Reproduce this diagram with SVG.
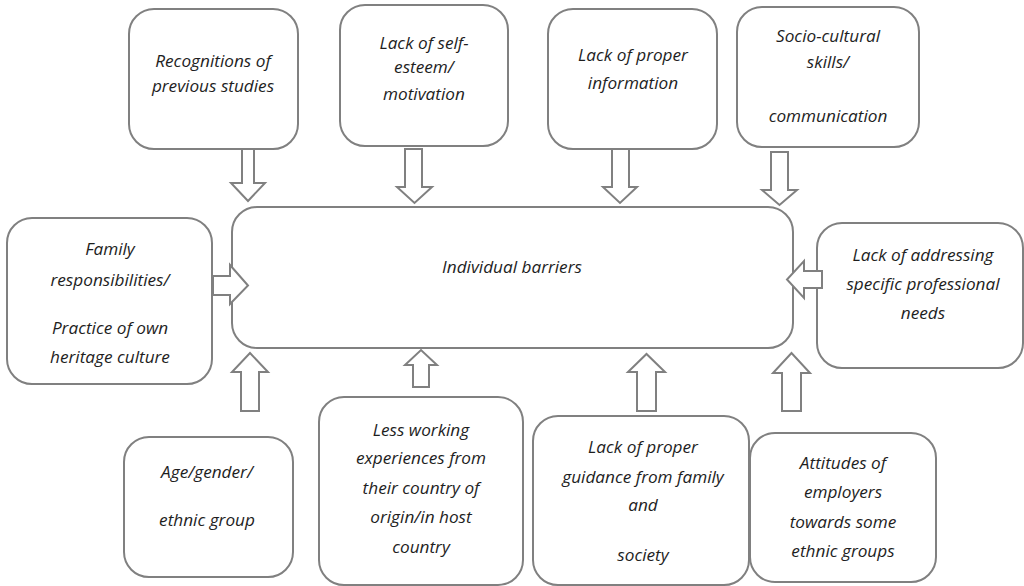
<svg xmlns="http://www.w3.org/2000/svg" width="1024" height="586" viewBox="0 0 1024 586">
<style>
.box{fill:#fff;stroke:#808080;stroke-width:2}
.arr{fill:#fff;stroke:#808080;stroke-width:2;stroke-linejoin:miter}
text{font-family:"Open Sans",Lato,"Liberation Sans",sans-serif;font-style:italic;font-size:17.2px;fill:#1e1e1e;text-anchor:middle}
</style>
<rect width="1024" height="586" fill="#fff"/>
<g id="n-recognitions"><rect class="box" x="129" y="9" width="169" height="140" rx="25"/>
<text x="213" y="67">Recognitions of</text><text x="213" y="92">previous studies</text></g>
<g id="n-selfesteem"><rect class="box" x="340" y="5" width="168" height="141" rx="25"/>
<text x="424" y="49">Lack of self-</text><text x="424" y="73">esteem/</text><text x="424" y="100">motivation</text></g>
<g id="n-information"><rect class="box" x="548" y="9" width="169" height="140" rx="25"/>
<text x="633" y="61">Lack of proper</text><text x="633" y="89">information</text></g>
<g id="n-sociocultural"><rect class="box" x="737" y="7" width="182" height="140" rx="25"/>
<text x="828" y="42">Socio-cultural</text><text x="828" y="68">skills/</text><text x="828" y="122">communication</text></g>
<g id="n-family"><rect class="box" x="7" y="218" width="205" height="166" rx="25"/>
<text x="110" y="255">Family</text><text x="110" y="286">responsibilities/</text><text x="110" y="334">Practice of own</text><text x="110" y="363">heritage culture</text></g>
<g id="n-individual"><rect class="box" x="232" y="207" width="561" height="141" rx="25"/>
<text x="512" y="273">Individual barriers</text></g>
<g id="n-professional"><rect class="box" x="817" y="223" width="206" height="145" rx="25"/>
<text x="923" y="261">Lack of addressing</text><text x="923" y="290">specific professional</text><text x="923" y="319">needs</text></g>
<g id="n-age"><rect class="box" x="124" y="437" width="169" height="140" rx="25"/>
<text x="207" y="478">Age/gender/</text><text x="207" y="526">ethnic group</text></g>
<g id="n-working"><rect class="box" x="319" y="397" width="204" height="188" rx="25"/>
<text x="421" y="436">Less working</text><text x="421" y="464">experiences from</text><text x="421" y="494">their country of</text><text x="421" y="523">origin/in host</text><text x="421" y="553">country</text></g>
<g id="n-guidance"><rect class="box" x="533" y="416" width="216" height="169" rx="25"/>
<text x="643" y="453">Lack of proper</text><text x="643" y="483">guidance from family</text><text x="643" y="511">and</text><text x="643" y="561">society</text></g>
<g id="n-attitudes"><rect class="box" x="750" y="433" width="186" height="149" rx="25"/>
<text x="843" y="469">Attitudes of</text><text x="843" y="498">employers</text><text x="843" y="528">towards some</text><text x="843" y="557">ethnic groups</text></g>
<g id="connectors">
<polygon class="arr" points="242,149 254,149 254,183 265,183 248,201 231,183 242,183"/>
<polygon class="arr" points="405,149 422,149 422,187 432,187 414.5,203 397,187 405,187"/>
<polygon class="arr" points="612,149 629,149 629,187 637,187 620,203 603,187 612,187"/>
<polygon class="arr" points="771,152 788,152 788,190 797,190 779.5,205 762,190 771,190"/>
<polygon class="arr" points="213,276 230,276 230,265 248,285.5 230,304 230,295 213,295"/>
<polygon class="arr" points="822,271 804,271 804,261 787,279.5 804,298 804,288 822,288"/>
<polygon class="arr" points="241,411 241,372 232,372 250,353 268,372 259,372 259,411"/>
<polygon class="arr" points="413,387 413,365 405,365 421,350 437,365 429,365 429,387"/>
<polygon class="arr" points="637,411 637,372 628,372 646.5,354 665,372 656,372 656,411"/>
<polygon class="arr" points="782,411 782,373 773,373 791.5,353 810,373 801,373 801,411"/>
</g>
</svg>
